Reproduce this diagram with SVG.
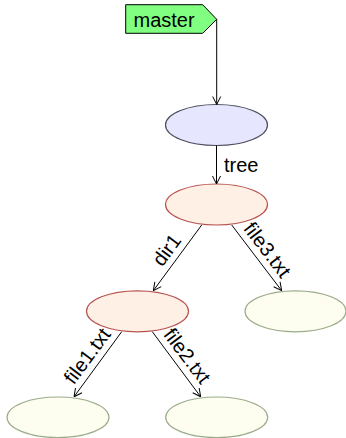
<svg xmlns="http://www.w3.org/2000/svg" width="346" height="438" viewBox="0 0 346 438">
<defs>
<style>
text{font-family:"Liberation Sans",Arial,sans-serif;font-size:20px;fill:#000}
.edge{fill:none;stroke:#000;stroke-width:1}
.commit{fill:#e6e6ff;stroke:#4d4d5c;stroke-width:1.2}
.dir{fill:#fff0e6;stroke:#b85450;stroke-width:1.2}
.file{fill:#fdfdf0;stroke:#9aab8a;stroke-width:1.2}
.tag{fill:#80ff80;stroke:#000;stroke-width:1}
</style>
<marker id="arr" viewBox="0 0 10 10" refX="10" refY="5" markerWidth="10" markerHeight="10" markerUnits="userSpaceOnUse" orient="auto">
<path d="M2,1 L10,5 L2,9" fill="none" stroke="#000" stroke-width="1"/>
</marker>
</defs>
<g id="master">
<path class="tag" d="M125.7,4.7 H202.7 L216.7,19.3 L202.7,33.3 H125.7 Z"/>
<text x="133.5" y="26.5">master</text>
</g>
<g id="commit"><ellipse class="commit" cx="216.5" cy="125" rx="51" ry="20.5"/></g>
<g id="tree"><ellipse class="dir" cx="216.5" cy="204.5" rx="51" ry="20.5"/></g>
<g id="dir1"><ellipse class="dir" cx="137.5" cy="311.3" rx="51" ry="20.5"/></g>
<g id="file3"><ellipse class="file" cx="295.5" cy="311.3" rx="50.5" ry="20.5"/></g>
<g id="file1"><ellipse class="file" cx="58" cy="417.3" rx="51" ry="20.3"/></g>
<g id="file2"><ellipse class="file" cx="216.7" cy="417.3" rx="51" ry="20.3"/></g>
<g id="connectors">
<path class="edge" d="M216.7,19.3 V104.5" marker-end="url(#arr)"/>
<path class="edge" d="M216.5,145.5 V184" marker-end="url(#arr)"/>
<text x="224" y="171.7">tree</text>
<path class="edge" d="M201.7,225 L153.3,290.7" marker-end="url(#arr)"/>
<text transform="translate(177.5,257.9) rotate(-53.6)" x="0" y="-6.5" text-anchor="middle">dir1</text>
<path class="edge" d="M231.7,225 L281.7,290.7" marker-end="url(#arr)"/>
<text transform="translate(256.7,257.9) rotate(52.7)" x="0" y="-6.5" text-anchor="middle">file3.txt</text>
<path class="edge" d="M121.7,331.7 L74,396.8" marker-end="url(#arr)"/>
<text transform="translate(97.9,363.9) rotate(-53.4)" x="0" y="-6.5" text-anchor="middle">file1.txt</text>
<path class="edge" d="M152.3,331.7 L200.7,396.8" marker-end="url(#arr)"/>
<text transform="translate(176.5,363.9) rotate(53)" x="0" y="-6.5" text-anchor="middle">file2.txt</text>
</g>
</svg>
